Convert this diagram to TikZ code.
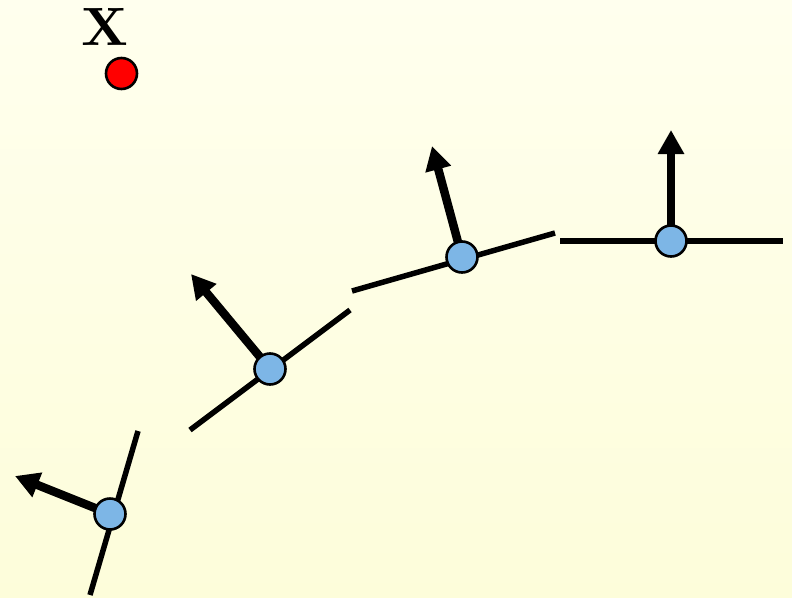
\documentclass[tikz,border=0pt]{standalone}
\usepackage{fontspec}
\newfontfamily\xfont{lmroman10-bold.otf}
\usetikzlibrary{arrows.meta}
\definecolor{bgtop}{RGB}{255,255,238}
\definecolor{bgbot}{RGB}{253,253,218}
\definecolor{jointblue}{RGB}{125,182,230}
\definecolor{dotred}{RGB}{255,0,0}
\tikzset{
  joint/.style={circle,draw=black,line width=2.6pt,fill=jointblue,minimum size=31pt,inner sep=0pt},
  target/.style={circle,draw=black,line width=2.6pt,fill=dotred,minimum size=31pt,inner sep=0pt},
  link/.style={line width=5.5pt},
  axis/.style={line width=8.5pt,-{Triangle[length=24pt,width=25pt]},shorten <=6pt},
}
\begin{document}
\begin{tikzpicture}[x=1pt,y=-1pt]
\shade[top color=bgtop,bottom color=bgbot] (0,0) rectangle (792,597);
\useasboundingbox (0,0) rectangle (792,597);
% link segments
\coordinate (a1) at (138,431); \coordinate (b1) at (90,595);
\coordinate (a2) at (190,430); \coordinate (b2) at (350,310);
\coordinate (a3) at (352,291); \coordinate (b3) at (555,233);
\coordinate (a4) at (560,241); \coordinate (b4) at (783,241);
\draw[link] (a1) -- (b1);
\draw[link] (a2) -- (b2);
\draw[link] (a3) -- (b3);
\draw[link] (a4) -- (b4);
% arrow tips
\coordinate (t1) at (15,476);
\coordinate (t2) at (191,274);
\coordinate (t3) at (432,146);
\coordinate (t4) at (671,130);
\coordinate (c1) at (110,514);
\coordinate (c2) at (270,369);
\coordinate (c3) at (462,257);
\coordinate (c4) at (671,241);
\draw[axis] (c1) -- (t1);
\draw[axis] (c2) -- (t2);
\draw[axis] (c3) -- (t3);
\draw[axis] (c4) -- (t4);
% joints
\node[joint] (j1) at (c1) {};
\node[joint] (j2) at (c2) {};
\node[joint] (j3) at (c3) {};
\node[joint] (j4) at (c4) {};
% target
\node[target] (x) at (121.5,73.5) {};
\node[font=\xfont\fontsize{54}{54}\selectfont,inner sep=0pt,anchor=base] (xl) at (105,45) {X};
\end{tikzpicture}
\end{document}
